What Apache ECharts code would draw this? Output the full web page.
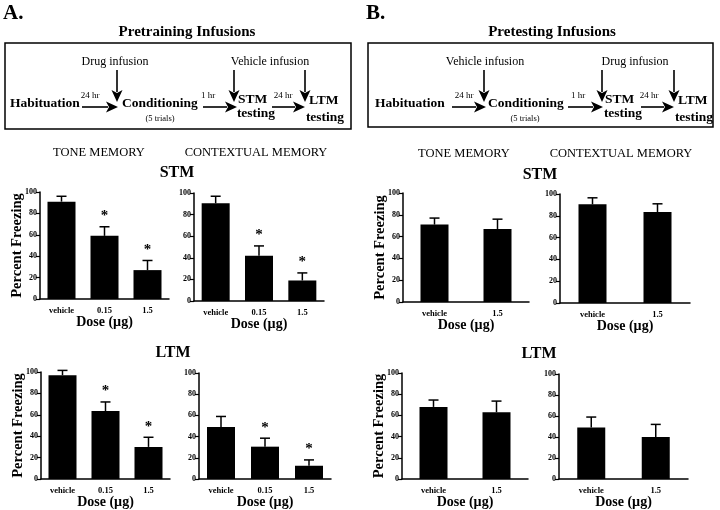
<!DOCTYPE html>
<html>
<head>
<meta charset="utf-8">
<script src="https://cdn.jsdelivr.net/npm/echarts@6/dist/echarts.min.js"></script>
<style>
  html, body { margin: 0; padding: 0; background: #fff; }
  #main { width: 720px; height: 510px; }
</style>
</head>
<body>
<div id="main"></div>
<script>
// dose categories
var doseA = ['vehicle', '0.15', '1.5'];
var doseB = ['vehicle', '1.5'];
var yTicks = [0, 20, 40, 60, 80, 100];

// A. pretraining infusions (mean, SEM, significance)
var aStmTone = [91, 59, 27];
var aStmToneSem = [5, 8.5, 9];
var aStmCtx = [90.5, 42, 19];
var aStmCtxSem = [6.5, 9, 7];
var aLtmTone = [97, 63.5, 30];
var aLtmToneSem = [4.5, 8.5, 9];
var aLtmCtx = [49, 30.5, 12.5];
var aLtmCtxSem = [10, 8, 5.5];
var aSig = [0, 1, 1];

// B. pretesting infusions
var bStmTone = [71, 67];
var bStmToneSem = [6, 9];
var bStmCtx = [90.5, 83.5];
var bStmCtxSem = [6, 7.5];
var bLtmTone = [68, 63];
var bLtmToneSem = [6.5, 10.5];
var bLtmCtx = [49, 40];
var bLtmCtxSem = [10, 12];
var bSig = [0, 0];

var SERIF = '"Liberation Serif", "Times New Roman", serif';

// panel layout
var panels = [
    { cats: doseA, mean: aStmTone, sem: aStmToneSem, sig: aSig, left: 40, top: 192, width: 129, height: 107, yName: true },
    { cats: doseA, mean: aStmCtx, sem: aStmCtxSem, sig: aSig, left: 194, top: 193, width: 130, height: 108 },
    { cats: doseA, mean: aLtmTone, sem: aLtmToneSem, sig: aSig, left: 41, top: 372, width: 129, height: 108, yName: true },
    { cats: doseA, mean: aLtmCtx, sem: aLtmCtxSem, sig: aSig, left: 199, top: 373, width: 132, height: 109 },
    { cats: doseB, mean: bStmTone, sem: bStmToneSem, sig: bSig, left: 403, top: 193, width: 126, height: 109, yName: true },
    { cats: doseB, mean: bStmCtx, sem: bStmCtxSem, sig: bSig, left: 560, top: 194, width: 130, height: 109 },
    { cats: doseB, mean: bLtmTone, sem: bLtmToneSem, sig: bSig, left: 402, top: 373, width: 126, height: 108, yName: true },
    { cats: doseB, mean: bLtmCtx, sem: bLtmCtxSem, sig: bSig, left: 559, top: 374, width: 129, height: 108 }
];

var grid = [], xAxis = [], yAxis = [], series = [];

//误差线 + 星号
function errRender(params, api) {
    var m = api.value(1), s = api.value(2), sig = api.value(3);
    var base = api.coord([api.value(0), m]);
    var top = api.coord([api.value(0), m + s]);
    var kids = [
        { type: 'line', shape: { x1: base[0], y1: base[1], x2: top[0], y2: top[1] }, style: { stroke: '#000', lineWidth: 1.5 } },
        { type: 'line', shape: { x1: top[0] - 5, y1: top[1], x2: top[0] + 5, y2: top[1] }, style: { stroke: '#000', lineWidth: 1.5 } }
    ];
    if (sig) {
        kids.push({
            type: 'text',
            style: { text: '*', x: top[0], y: top[1] - 3, fill: '#000', font: 'bold 15px ' + SERIF,
                align: 'center', verticalAlign: 'bottom', textAlign: 'center', textVerticalAlign: 'bottom' }
        });
    }
    return { type: 'group', children: kids };
}

panels.forEach(function (p, i) {
    grid.push({ left: p.left, top: p.top, width: p.width, height: p.height });
    xAxis.push({
        type: 'category', gridIndex: i, data: p.cats,
        name: 'Dose (µg)', nameLocation: 'middle', nameGap: 16, nameMoveOverlap: false,
        nameTextStyle: { fontFamily: SERIF, fontWeight: 'bold', fontSize: 14, color: '#000' },
        axisLine: { lineStyle: { color: '#000', width: 1.5 } },
        axisTick: { show: false },
        axisLabel: { fontFamily: SERIF, fontWeight: 'bold', fontSize: 8.5, color: '#000', margin: 7 }
    });
    yAxis.push({
        type: 'value', gridIndex: i, min: yTicks[0], max: yTicks[yTicks.length - 1], interval: 20,
        name: p.yName ? 'Percent Freezing' : '', nameLocation: 'middle', nameGap: 15, nameMoveOverlap: false,
        nameTextStyle: { fontFamily: SERIF, fontWeight: 'bold', fontSize: 14.5, color: '#000' },
        axisLine: { show: true, lineStyle: { color: '#000', width: 1.5 } },
        axisTick: { show: true, length: 4, lineStyle: { color: '#000', width: 1.2 } },
        splitLine: { show: false },
        axisLabel: { fontFamily: SERIF, fontWeight: 'bold', fontSize: 8, color: '#000', margin: 3 }
    });
    series.push({
        type: 'bar', xAxisIndex: i, yAxisIndex: i, data: p.mean,
        barWidth: 28, itemStyle: { color: '#000' }, silent: true
    });
    series.push({
        type: 'custom', xAxisIndex: i, yAxisIndex: i, renderItem: errRender, z: 5, clip: false,
        data: p.mean.map(function (v, k) { return [k, v, p.sem[k], p.sig[k]]; })
    });
});

function txt(s, x, y, font, align) {
    return {
        type: 'text',
        style: { text: s, x: x, y: y, fill: '#000', font: font,
            align: align || 'center', verticalAlign: 'middle',
            textAlign: align || 'center', textVerticalAlign: 'middle' }
    };
}

function arrow(x1, y1, x2, y2) {
    var dx = x2 - x1, dy = y2 - y1, len = Math.sqrt(dx * dx + dy * dy);
    var ux = dx / len, uy = dy / len, hl = 12, hw = 5.5;
    var bx = x2 - ux * hl, by = y2 - uy * hl;
    return [
        { type: 'line', shape: { x1: x1, y1: y1, x2: bx + ux * 2, y2: by + uy * 2 }, style: { stroke: '#000', lineWidth: 1.6 } },
        { type: 'polygon', shape: { points: [[x2, y2], [bx - uy * hw, by + ux * hw], [bx + ux * 3, by + uy * 3], [bx + uy * hw, by - ux * hw]] }, style: { fill: '#000' } }
    ];
}

var BIG = 'bold 13.5px ' + SERIF, SMALL = '9px ' + SERIF, MID = '12px ' + SERIF;

function diagram(boxX, boxW, boxH, letter, title, firstInf, secondInf, d) {
    var els = [
        txt(letter, boxX - 2, 14, 'bold 21px ' + SERIF, 'left'),
        txt(title, d.title, 32, 'bold 15px ' + SERIF),
        { type: 'rect', shape: { x: boxX, y: 43, width: boxW, height: boxH }, style: { fill: 'none', stroke: '#000', lineWidth: 1.5 } },
        txt('Habituation', d.hab, 104, BIG, 'left'),
        txt('24 hr', d.h24a, 96, SMALL),
        txt('Conditioning', d.cond, 104, BIG, 'left'),
        txt('(5 trials)', d.trials, 119, '8.5px ' + SERIF),
        txt('1 hr', d.h1, 96, SMALL),
        txt('STM', d.stm, 100, BIG, 'left'),
        txt('testing', d.stm + 18, 114, BIG),
        txt('24 hr', d.h24b, 96, SMALL),
        txt('LTM', d.ltm, 101, BIG, 'left'),
        txt('testing', d.ltm + 16, 118, BIG),
        txt(firstInf, d.inf1, 62, MID),
        txt(secondInf, d.inf2, 62, MID)
    ];
    els = els.concat(arrow(d.a1[0], 107, d.a1[1], 107));
    els = els.concat(arrow(d.a2[0], 107, d.a2[1], 107));
    els = els.concat(arrow(d.a3[0], 107, d.a3[1], 107));
    d.down.forEach(function (x) { els = els.concat(arrow(x, 70, x, 102)); });
    return els;
}

var graphic = [];
graphic = graphic.concat(diagram(5, 346, 86, 'A.', 'Pretraining Infusions', 'Drug infusion', 'Vehicle infusion', {
    title: 187, hab: 10, h24a: 90, cond: 122, trials: 160, h1: 208, stm: 238, h24b: 283, ltm: 309,
    inf1: 115, inf2: 270, a1: [82, 118], a2: [203, 237], a3: [272, 305], down: [117, 234, 305]
}));
graphic = graphic.concat(diagram(368, 345, 84, 'B.', 'Pretesting Infusions', 'Vehicle infusion', 'Drug infusion', {
    title: 552, hab: 375, h24a: 464, cond: 488, trials: 525, h1: 578, stm: 605, h24b: 649, ltm: 678,
    inf1: 485, inf2: 635, a1: [452, 486], a2: [568, 603], a3: [641, 674], down: [484, 602, 674]
}));

// 小标题
var HEAD = '12.5px ' + SERIF, SUB = 'bold 16px ' + SERIF;
graphic.push(txt('TONE MEMORY', 99, 153, HEAD));
graphic.push(txt('CONTEXTUAL MEMORY', 256, 153, HEAD));
graphic.push(txt('STM', 177, 173, SUB));
graphic.push(txt('LTM', 173, 353, SUB));
graphic.push(txt('TONE MEMORY', 464, 154, HEAD));
graphic.push(txt('CONTEXTUAL MEMORY', 621, 154, HEAD));
graphic.push(txt('STM', 540, 175, SUB));
graphic.push(txt('LTM', 539, 354, SUB));

var chart = echarts.init(document.getElementById('main'), null, { renderer: 'canvas' });
chart.setOption({
    backgroundColor: '#fff',
    animation: false,
    grid: grid,
    xAxis: xAxis,
    yAxis: yAxis,
    series: series,
    graphic: graphic
});
</script>
</body>
</html>
